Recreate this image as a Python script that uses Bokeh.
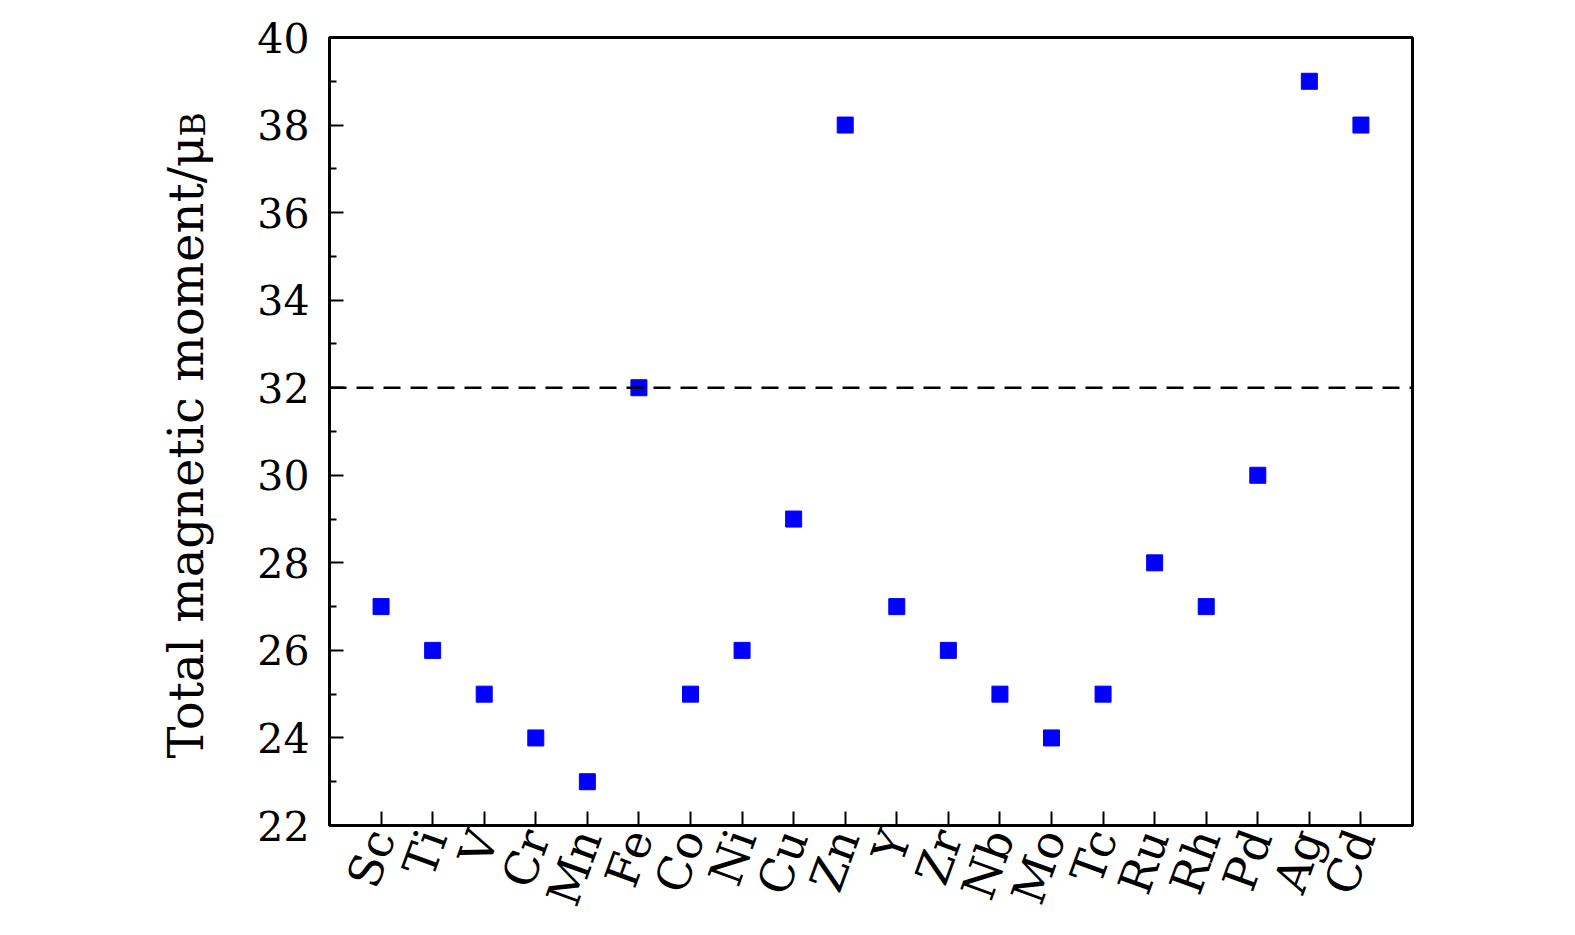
import math
from bokeh.plotting import figure
from bokeh.models import FixedTicker, Span, Title
from bokeh.embed import file_html
from bokeh.resources import INLINE

elements = ["Sc", "Ti", "V", "Cr", "Mn", "Fe", "Co", "Ni", "Cu", "Zn",
            "Y", "Zr", "Nb", "Mo", "Tc", "Ru", "Rh", "Pd", "Ag", "Cd"]
moments = [27, 26, 25, 24, 23, 32, 25, 26, 29, 38,
           27, 26, 25, 24, 25, 28, 27, 30, 39, 38]
reference_level = 32
y_ticks = [22, 24, 26, 28, 30, 32, 34, 36, 38, 40]
y_minor = [23, 25, 27, 29, 31, 33, 35, 37, 39]
y_title = "Total magnetic moment/μ"
y_title_sub = "B"

xs = list(range(1, len(elements) + 1))
FONT = "DejaVu Serif"

p = figure(width=1559, height=925, x_range=(0, 21), y_range=(22, 40),
           output_backend="svg", toolbar_location=None,
           min_border_left=329, min_border_right=147,
           min_border_top=37, min_border_bottom=100)
p.grid.visible = False
p.outline_line_color = "black"
p.outline_line_width = 3
p.background_fill_color = "white"
p.border_fill_color = "white"

p.scatter(xs, moments, marker="square", size=16, fill_color="#0000ff",
          line_color="#0000ff")

p.add_layout(Span(location=reference_level, dimension="width",
                  line_color="black", line_dash="17 10", line_width=2.5))

xa = p.xaxis[0]
xa.ticker = FixedTicker(ticks=xs)
xa.major_label_overrides = {x: e for x, e in zip(xs, elements)}
xa.major_label_orientation = math.radians(70)
xa.axis_line_width = 3
xa.major_tick_line_width = 2
xa.major_tick_in = 14
xa.major_tick_out = 0
xa.minor_tick_line_color = None
xa.major_label_text_font = FONT
xa.major_label_text_font_size = "46px"
xa.major_label_text_color = "black"
xa.major_label_standoff = 6

ya = p.yaxis[0]
ya.ticker = FixedTicker(ticks=y_ticks, minor_ticks=y_minor)
ya.axis_line_width = 3
ya.major_tick_line_width = 2
ya.minor_tick_line_width = 2
ya.major_tick_in = 14
ya.major_tick_out = 0
ya.minor_tick_in = 7
ya.minor_tick_out = 0
ya.major_label_text_font = FONT
ya.major_label_text_font_size = "41px"
ya.major_label_text_color = "black"
ya.major_label_standoff = 20
# blank axis label used only as spacing
ya.axis_label = " "
ya.axis_label_text_font_size = "10px"
ya.axis_label_standoff = 38

# y-axis title: subscript (inner panel) and main text (outer panel)
sub = Title(text=y_title_sub, align="left", offset=689, vertical_align="top",
            standoff=-24, text_font=FONT, text_font_size="33px",
            text_font_style="normal", text_color="black")
main = Title(text=y_title, align="left", offset=67, vertical_align="bottom",
             standoff=-57.5, text_font=FONT, text_font_size="48px",
             text_font_style="normal", text_color="black")
p.add_layout(sub, "left")
p.add_layout(main, "left")

open("out.html", "w").write(file_html(p, INLINE))
